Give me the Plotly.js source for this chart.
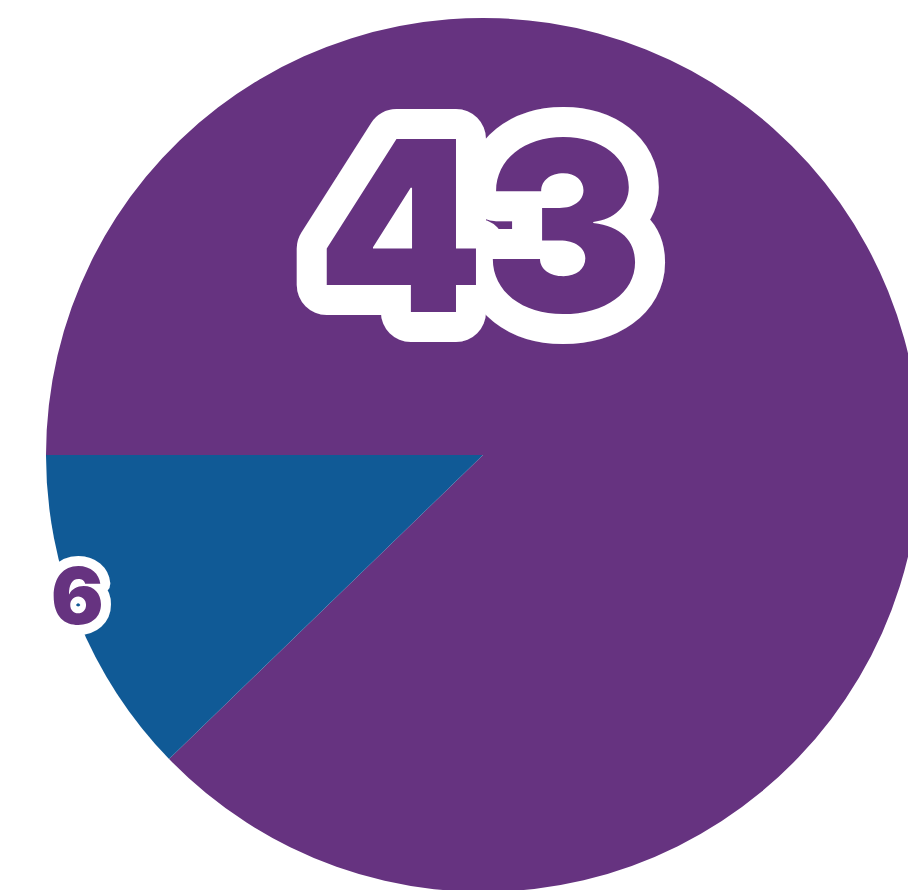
<!DOCTYPE html>
<html>
<head>
<meta charset="utf-8">
<script src="https://cdn.plot.ly/plotly-3.0.1.min.js"></script>
<style>
  html, body { margin: 0; padding: 0; overflow: hidden; background: #ffffff; }
  #chart { width: 966px; height: 910px; }
</style>
</head>
<body>
<div id="chart"></div>
<script>
// Data
const categories = ["Category A", "Category B"];
const values = [43, 6];
const sliceColors = ["#663380", "#105A96"];

// Label placement (paper coords) and sizes
const labelX = [0.4966, 0.0355];
const labelY = [0.7632, 0.3395];
const labelSize = [238, 78];

const trace = {
  type: "pie",
  labels: categories,
  values: values,
  sort: false,
  direction: "counterclockwise",
  rotation: -90,
  marker: { colors: sliceColors, line: { width: 0 } },
  textinfo: "none",
  hoverinfo: "none",
  showlegend: false
};

const annotations = values.map((v, i) => ({
  xref: "paper", yref: "paper",
  x: labelX[i], y: labelY[i],
  xanchor: "center", yanchor: "middle",
  text: String(v),
  showarrow: false,
  font: { family: "Inter", size: labelSize[i], color: sliceColors[0], weight: 900 }
}));

const layout = {
  width: 966,
  height: 910,
  margin: { l: 46, r: 46, t: 18, b: 18, pad: 0 },
  paper_bgcolor: "#ffffff",
  plot_bgcolor: "#ffffff",
  showlegend: false,
  annotations: annotations
};

const gd = document.getElementById("chart");
Plotly.newPlot(gd, [trace], layout, { displayModeBar: false, staticPlot: true }).then(() => {
  const texts = gd.querySelectorAll(".annotation-text");
  texts.forEach((t, i) => {
    const sw = Math.round(labelSize[i] * 0.25);
    t.style.stroke = "#ffffff";
    t.style.strokeWidth = sw + "px";
    t.style.strokeLinejoin = "round";
    t.style.paintOrder = "stroke";
  });
});
</script>
</body>
</html>
